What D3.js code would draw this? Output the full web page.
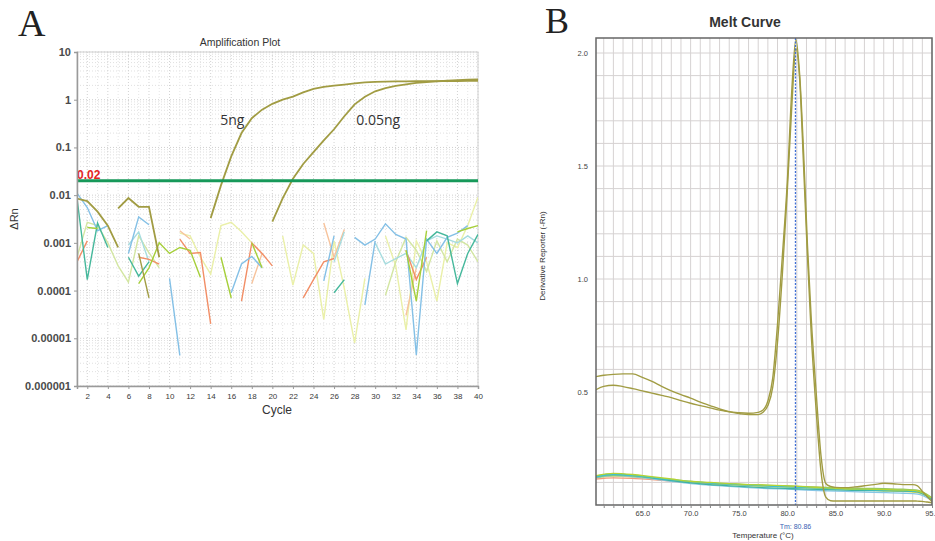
<!DOCTYPE html>
<html>
<head>
<meta charset="utf-8">
<script src="https://cdn.jsdelivr.net/npm/d3@7"></script>
<style>
  body { margin: 0; background: #fff; }
  svg { display: block; font-family: "Liberation Sans", Arial, sans-serif; }
</style>
</head>
<body>
<svg id="chart" width="935" height="541"></svg>
<script>
// ---- amplification plot (delta Rn per cycle, null = not plotted on log axis)
const cycles = [1,2,3,4,5,6,7,8,9,10,11,12,13,14,15,16,17,18,19,20,21,22,23,24,25,26,27,28,29,30,31,32,33,34,35,36,37,38,39,40];
const cycleTicks = [2,4,6,8,10,12,14,16,18,20,22,24,26,28,30,32,34,36,38,40];
const decadeTicks = [1e-6, 1e-5, 1e-4, 1e-3, 1e-2, 1e-1, 1, 10];
const decadeLabels = ["0.000001","0.00001","0.0001","0.001","0.01","0.1","1","10"];
const threshold = 0.02;

const amp5ng = [0.0085,0.0075,0.0045,0.0023,0.0008,null,null,null,null,null,null,null,null,
  0.0033,0.016,0.065,0.2,0.41,0.62,0.82,1.0,1.16,1.42,1.68,1.85,1.97,2.08,2.2,2.3,2.36,2.4,2.42,2.43,2.44,2.45,2.46,2.47,2.47,2.48,2.48];
const amp005ng = [null,null,null,null,0.0053,0.0087,0.0057,0.0057,0.0005,null,null,null,null,null,null,null,null,null,null,
  0.0028,0.0086,0.022,0.045,0.08,0.14,0.24,0.45,0.8,1.15,1.5,1.75,1.95,2.1,2.25,2.35,2.43,2.5,2.56,2.62,2.65];

// no-template wells (noise around baseline)
const nLightBlue = [0.011,0.0055,0.0018,0.0023,null,0.0006,0.0035,0.0024,null,0.00018,0.0000044,null,null,null,null,
  0.00009,0.00036,0.00052,0.0003,null,null,null,null,null,0.00016,0.0014,null,0.0013,0.0009,0.0012,0.0025,0.0015,0.0012,
  0.0000045,0.0012,0.0006,0.0013,0.0016,0.0023,null];
const nBlue2 = [null,null,null,null,null,null,null,null,null,null,null,null,null,null,null,null,null,null,null,null,
  null,null,null,null,null,null,null,null,0.00005,0.0011,null,null,null,null,null,null,null,null,null,null];
const nTeal = [0.0086,0.00017,0.0026,0.0008,null,0.0005,0.0002,0.0004,null,null,null,null,null,null,null,null,null,null,
  null,null,null,null,null,null,null,0.00009,0.00017,null,null,null,null,null,null,null,0.0011,0.0017,0.0014,0.00014,0.0006,0.0015];
const nOrange = [0.0004,0.0011,null,null,null,null,0.0005,0.00045,0.00036,null,0.0012,0.0006,0.00063,0.00002,null,null,
  0.00006,0.001,0.0006,0.00033,null,null,0.00007,0.00017,0.0004,0.00047,null,null,null,null,null,null,0.0007,0.00017,0.0005,
  null,null,null,null,null];
const nLime = [null,0.0021,0.002,null,null,null,0.00014,0.0003,0.001,0.0006,0.0008,0.0007,0.00019,null,0.0005,0.00007,null,
  0.001,0.0003,null,null,null,null,null,null,null,null,null,null,null,null,null,0.0007,0.00006,0.0018,null,null,0.0017,0.002,0.0023];
const nPaleYellow = [null,null,null,null,null,null,null,null,null,null,0.0016,0.0014,0.0005,0.00022,0.0023,0.0027,0.0017,0.001,
  null,null,0.0014,0.00013,0.0009,0.0006,0.000025,0.0011,0.00011,0.000008,0.00018,null,0.0014,0.00033,0.000015,0.0011,0.0004,
  0.00006,0.001,0.0008,0.0023,0.009];
const nPaleGreen = [0.0005,0.0027,0.0023,0.001,0.00033,0.00015,0.0014,0.00062,0.0003,null,null,null,null,null,null,null,null,
  null,null,null,null,null,null,null,null,null,null,null,null,null,0.00008,0.0004,0.0013,0.0007,0.00025,0.0011,0.0004,0.0012,0.0009,0.0004];
const nPaleCyan = [null,null,null,null,null,0.0009,0.0017,0.0004,null,null,null,null,null,null,null,null,null,null,null,null,
  null,null,null,null,null,0.0004,0.0017,null,null,0.001,0.00036,0.00047,0.0006,0.0003,0.0011,0.0014,0.0012,0.001,0.0014,0.001];
const nPeach = [null,null,null,null,null,null,null,null,null,null,0.0018,0.0012,null,null,null,null,null,0.00014,0.0006,
  null,null,null,null,null,0.0026,0.0005,0.0019,null,null,null,null,null,0.00003,0.0003,null,null,null,null,null,null];
const nOlive = [null,null,null,null,null,null,0.0006,0.00007,null,null,null,null,null,null,null,null,null,null,null,null,
  null,null,null,null,null,null,null,null,null,null,null,null,null,null,null,null,null,null,null,null];

// ---- melt curve (derivative reporter vs temperature)
const meltTemps = [60.2,61,62,63,64,65,66,67,68,69,70,71,72,73,74,75,76,77,77.5,78,78.5,79,79.5,80,80.5,80.9,81.3,81.7,
  82.1,82.5,83,83.5,84,84.5,85,86,87,88,89,90,91,92,93,93.5,94,94.5,95];
const melt1 = [0.568,0.574,0.578,0.58,0.58,0.565,0.547,0.525,0.505,0.488,0.473,0.455,0.44,0.425,0.413,0.408,0.406,0.41,
  0.42,0.46,0.56,0.8,1.1,1.42,1.85,2.06,1.9,1.56,1.15,0.82,0.5,0.22,0.095,0.082,0.078,0.077,0.08,0.085,0.09,0.096,0.094,
  0.09,0.09,0.085,0.06,0.038,0.015];
const melt2 = [0.51,0.525,0.53,0.524,0.515,0.505,0.495,0.485,0.475,0.462,0.45,0.44,0.43,0.42,0.412,0.405,0.4,0.4,
  0.41,0.44,0.52,0.72,1.02,1.38,1.78,2.02,1.88,1.5,1.1,0.75,0.42,0.15,0.035,0.019,0.018,0.018,0.018,0.018,0.018,0.018,
  0.018,0.018,0.018,0.017,0.016,0.013,0.01];
const noiseTemps = [60.2,62,64,66,68,70,72,74,76,78,80,82,84,86,88,90,92,93.5,95];
const mLime = [0.13,0.14,0.135,0.125,0.115,0.105,0.1,0.095,0.09,0.088,0.085,0.08,0.076,0.072,0.07,0.068,0.066,0.062,0.03];
const mCyan = [0.125,0.135,0.13,0.122,0.112,0.104,0.097,0.092,0.088,0.084,0.08,0.077,0.074,0.071,0.068,0.066,0.065,0.06,0.028];
const mYellow = [0.12,0.128,0.125,0.118,0.11,0.1,0.094,0.09,0.086,0.082,0.079,0.076,0.072,0.07,0.067,0.063,0.06,0.055,0.025];
const mOrange = [0.115,0.12,0.118,0.112,0.106,0.1,0.096,0.092,0.089,0.086,0.083,0.08,0.077,0.075,0.072,0.07,0.066,0.06,0.027];
const mTeal = [0.128,0.138,0.132,0.12,0.108,0.098,0.09,0.085,0.08,0.076,0.073,0.07,0.068,0.066,0.064,0.063,0.062,0.058,0.024];
const mBlue = [0.12,0.13,0.125,0.116,0.105,0.095,0.088,0.082,0.077,0.073,0.07,0.066,0.063,0.06,0.057,0.055,0.052,0.048,0.02];
const mGreen = [0.122,0.132,0.128,0.12,0.112,0.103,0.097,0.093,0.09,0.087,0.084,0.081,0.078,0.076,0.074,0.072,0.07,0.066,0.032];
const meltXTicks = [65,70,75,80,85,90,95];
const meltYTicks = [0.5,1.0,1.5,2.0];
const tm = 80.86;

const olive = "#a19c43";
const svg = d3.select("#chart");

// ================= panel A
const A = {left: 77, right: 478, top: 52, bottom: 386};
const xA = d3.scaleLinear([1, 40], [A.left, A.right]);
const yA = d3.scaleLog([1e-6, 10], [A.bottom, A.top]);

svg.append("text").attr("x", 18).attr("y", 36)
  .attr("font-family", "'Liberation Serif', 'DejaVu Serif', serif").attr("font-size", 38).attr("fill", "#222").text("A");
svg.append("text").attr("x", 240).attr("y", 46).attr("text-anchor", "middle")
  .attr("font-size", 10.5).attr("fill", "#333").text("Amplification Plot");

const gA = svg.append("g");
// grid
const minor = [];
for (let e = -6; e < 1; e++) for (let m = 2; m <= 9; m++) minor.push(m * Math.pow(10, e));
gA.selectAll("line.hminor").data(minor).join("line")
  .attr("x1", A.left).attr("x2", A.right)
  .attr("y1", d => yA(d)).attr("y2", d => yA(d))
  .attr("stroke", "#e0e0e0").attr("stroke-dasharray", "1,2");
gA.selectAll("line.hmajor").data(decadeTicks).join("line")
  .attr("x1", A.left).attr("x2", A.right)
  .attr("y1", d => yA(d)).attr("y2", d => yA(d))
  .attr("stroke", "#cfcfcf").attr("stroke-dasharray", "1,2");
gA.selectAll("line.v").data(cycles.slice(1)).join("line")
  .attr("x1", d => xA(d)).attr("x2", d => xA(d))
  .attr("y1", A.top).attr("y2", A.bottom)
  .attr("stroke", d => d % 2 ? "#e6e6e6" : "#d2d2d2").attr("stroke-dasharray", "1,2");
gA.append("rect").attr("x", A.left).attr("y", A.top)
  .attr("width", A.right - A.left).attr("height", A.bottom - A.top)
  .attr("fill", "none").attr("stroke", "#d0d0d0");

svg.append("clipPath").attr("id", "clipA").append("rect")
  .attr("x", A.left).attr("y", A.top).attr("width", A.right - A.left).attr("height", A.bottom - A.top);

const lineA = d3.line()
  .defined(d => d.v != null)
  .x(d => xA(d.c)).y(d => yA(d.v));
const noiseA = [
  {vals: nPaleYellow, color: "#eaf0a8"},
  {vals: nPaleGreen, color: "#d3e6a2"},
  {vals: nPeach, color: "#f7c39c"},
  {vals: nPaleCyan, color: "#a6dcdf"},
  {vals: nOrange, color: "#f28e66"},
  {vals: nLightBlue, color: "#84c0e6"},
  {vals: nBlue2, color: "#84c0e6"},
  {vals: nTeal, color: "#46b89c"},
  {vals: nLime, color: "#a6cf3a"},
  {vals: nOlive, color: olive}
];
const plotA = gA.append("g").attr("clip-path", "url(#clipA)");
plotA.selectAll("path.noise").data(noiseA).join("path")
  .attr("d", s => lineA(cycles.map((c, i) => ({c, v: s.vals[i]}))))
  .attr("fill", "none").attr("stroke", s => s.color).attr("stroke-width", 1.4);
plotA.selectAll("path.sample").data([amp5ng, amp005ng]).join("path")
  .attr("d", s => lineA(cycles.map((c, i) => ({c, v: s[i]}))))
  .attr("fill", "none").attr("stroke", olive).attr("stroke-width", 1.8);

// threshold
gA.append("line").attr("x1", A.left).attr("x2", A.right)
  .attr("y1", yA(threshold)).attr("y2", yA(threshold))
  .attr("stroke", "#17995a").attr("stroke-width", 3);
gA.append("text").attr("x", A.left).attr("y", yA(threshold) - 2)
  .attr("font-size", 12).attr("font-weight", "bold").attr("fill", "#e3261e").text("0.02");

// axes
const axYA = gA.append("g").attr("transform", `translate(${A.left},0)`)
  .call(d3.axisLeft(yA).tickValues(decadeTicks).tickFormat((d, i) => decadeLabels[i]).tickSize(3).tickPadding(3));
const axXA = gA.append("g").attr("transform", `translate(0,${A.bottom})`)
  .call(d3.axisBottom(xA).tickValues(cycleTicks).tickSize(3).tickPadding(4));
[axYA, axXA].forEach(ax => {
  ax.select(".domain").attr("stroke", "#9a9a9a").attr("stroke-width", 1.5);
  ax.selectAll(".tick line").attr("stroke", "#9a9a9a");
  ax.selectAll("text").attr("fill", "#3a3a3a").attr("font-family", "'Liberation Sans', Arial, sans-serif");
});
axYA.selectAll("text").attr("font-size", 11).attr("font-weight", "bold").attr("fill", "#4a4a4a");
axXA.selectAll("text").attr("font-size", 8);

svg.append("text").attr("x", 277).attr("y", 414).attr("text-anchor", "middle")
  .attr("font-size", 12).attr("fill", "#333").text("Cycle");
svg.append("text").attr("transform", "translate(18,219) rotate(-90)").attr("text-anchor", "middle")
  .attr("font-size", 11).attr("fill", "#333").text("ΔRn");

svg.append("text").attr("x", xA(16.1)).attr("y", 125).attr("text-anchor", "middle")
  .attr("font-family", "'Open Sans', sans-serif").attr("font-size", 14).attr("fill", "#333").text("5ng");
svg.append("text").attr("x", xA(30.3)).attr("y", 125).attr("text-anchor", "middle")
  .attr("font-family", "'Open Sans', sans-serif").attr("font-size", 14).attr("fill", "#333").text("0.05ng");

// ================= panel B
const B = {left: 596, right: 932, top: 38, bottom: 505};
const xB = d3.scaleLinear([60.2, 95], [B.left, B.right]);
const yB = d3.scaleLinear([0, 2], [B.bottom, 53]);

svg.append("text").attr("x", 545).attr("y", 33)
  .attr("font-family", "'Liberation Serif', 'DejaVu Serif', serif").attr("font-size", 36).attr("fill", "#222").text("B");
svg.append("text").attr("x", 745).attr("y", 27).attr("text-anchor", "middle")
  .attr("font-size", 14).attr("font-weight", "bold").attr("fill", "#333").text("Melt Curve");

const gB = svg.append("g");
const vGrid = d3.range(61, 96);
const hGrid = d3.range(1, 21).map(d => d / 10);
gB.selectAll("line.v").data(vGrid).join("line")
  .attr("x1", d => xB(d)).attr("x2", d => xB(d)).attr("y1", B.top).attr("y2", B.bottom)
  .attr("stroke", "#d6d2d2");
gB.selectAll("line.h").data(hGrid).join("line")
  .attr("x1", B.left).attr("x2", B.right).attr("y1", d => yB(d)).attr("y2", d => yB(d))
  .attr("stroke", "#d6d2d2");

svg.append("clipPath").attr("id", "clipB").append("rect")
  .attr("x", B.left).attr("y", B.top).attr("width", B.right - B.left).attr("height", B.bottom - B.top);
const plotB = gB.append("g").attr("clip-path", "url(#clipB)");
const lineB = d3.line().x(d => xB(d[0])).y(d => yB(d[1])).curve(d3.curveMonotoneX);
const noiseB = [
  {vals: mYellow, color: "#e6dc4a"},
  {vals: mOrange, color: "#f29a78"},
  {vals: mBlue, color: "#86c6e6"},
  {vals: mGreen, color: "#94c862"},
  {vals: mTeal, color: "#3fb3a2"},
  {vals: mCyan, color: "#3cc2d4"},
  {vals: mLime, color: "#b4d335"}
];
plotB.selectAll("path.noise").data(noiseB).join("path")
  .attr("d", s => lineB(noiseTemps.map((t, i) => [t, s.vals[i]])))
  .attr("fill", "none").attr("stroke", s => s.color).attr("stroke-width", 1.3);
plotB.selectAll("path.sample").data([melt1, melt2]).join("path")
  .attr("d", s => lineB(meltTemps.map((t, i) => [t, s[i]])))
  .attr("fill", "none").attr("stroke", olive).attr("stroke-width", 1.4);

gB.append("line").attr("x1", xB(tm)).attr("x2", xB(tm)).attr("y1", B.top).attr("y2", B.bottom)
  .attr("stroke", "#3f6fd6").attr("stroke-width", 1.3).attr("stroke-dasharray", "2,1.5");

gB.append("rect").attr("x", B.left).attr("y", B.top)
  .attr("width", B.right - B.left).attr("height", B.bottom - B.top)
  .attr("fill", "none").attr("stroke", "#666").attr("stroke-width", 1.5);

const axXB = gB.append("g").attr("transform", `translate(0,${B.bottom})`)
  .call(d3.axisBottom(xB).tickValues(vGrid).tickSize(3).tickPadding(3)
    .tickFormat(d => meltXTicks.includes(d) ? d3.format(".1f")(d) : ""));
const axYB = gB.append("g").attr("transform", `translate(${B.left},0)`)
  .call(d3.axisLeft(yB).tickValues(meltYTicks).tickSize(0).tickPadding(8).tickFormat(d3.format(".1f")));
[axXB, axYB].forEach(ax => {
  ax.select(".domain").remove();
  ax.selectAll(".tick line").attr("stroke", "#888");
  ax.selectAll("text").attr("font-size", 7.5).attr("fill", "#444")
    .attr("font-family", "'Liberation Sans', Arial, sans-serif");
});

svg.append("text").attr("x", xB(tm)).attr("y", 529).attr("text-anchor", "middle")
  .attr("font-size", 7).attr("fill", "#3a62b4").text("Tm: 80.86");
svg.append("text").attr("x", 763).attr("y", 538).attr("text-anchor", "middle")
  .attr("font-size", 8).attr("fill", "#333").text("Temperature (°C)");
svg.append("text").attr("transform", "translate(545,256) rotate(-90)").attr("text-anchor", "middle")
  .attr("font-size", 8).attr("fill", "#333").text("Derivative Reporter (-Rn)");
</script>
</body>
</html>
